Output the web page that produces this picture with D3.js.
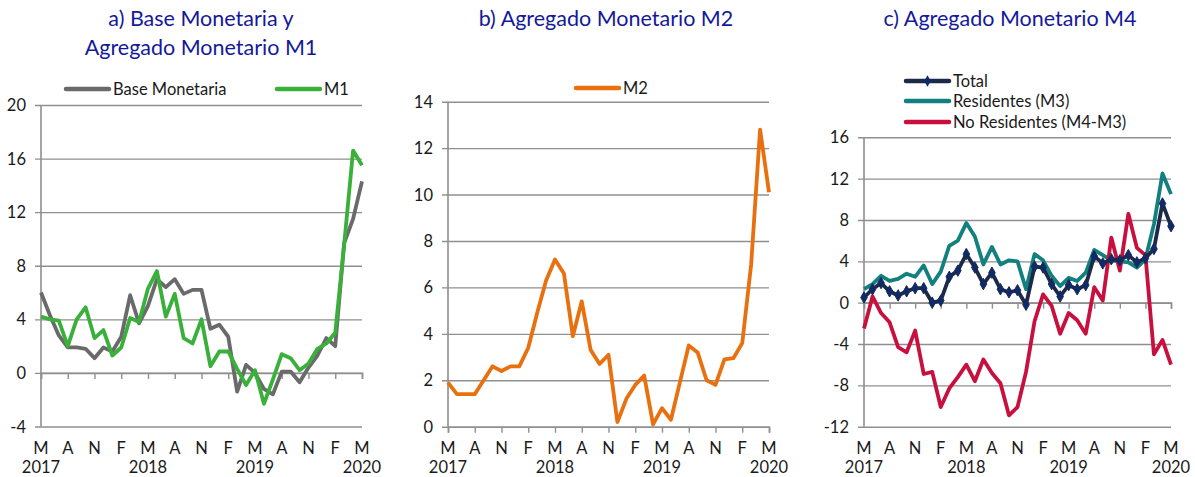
<!DOCTYPE html>
<html>
<head>
<meta charset="utf-8">
<script src="https://cdn.jsdelivr.net/npm/d3@7"></script>
<style>
  body { margin: 0; background: #fff; }
  svg { display: block; font-family: Lato, 'Open Sans', sans-serif; }
</style>
</head>
<body>
<svg id="chart" width="1195" height="477"></svg>
<script>
// month labels every 3 months, years under every 4th label
const MONTH_TICKS = ['M','A','N','F','M','A','N','F','M','A','N','F','M'];
const YEAR_TICKS = ['2017','2018','2019','2020'];

// a) annual growth, %
const baseMonetaria = [6.0,4.3,2.8,1.9,1.9,1.8,1.1,1.9,1.6,2.7,5.8,3.7,5.0,7.0,6.4,7.0,5.9,6.2,6.2,3.3,3.6,2.7,-1.4,0.6,0.0,-1.2,-1.6,0.1,0.1,-0.7,0.4,1.3,2.6,2.0,9.7,11.5,14.3];
const m1 = [4.2,4.0,3.9,2.0,4.0,4.9,2.6,3.2,1.3,1.9,4.1,3.8,6.3,7.6,4.2,5.9,2.6,2.2,4.0,0.5,1.6,1.6,0.3,-0.9,0.2,-2.3,-0.5,1.4,1.1,0.2,0.7,1.8,2.2,3.0,9.6,16.6,15.5];

// b)
const m2 = [1.9,1.4,1.4,1.4,2.0,2.6,2.4,2.6,2.6,3.4,4.9,6.3,7.2,6.6,3.9,5.4,3.3,2.7,3.1,0.2,1.2,1.8,2.2,0.1,0.8,0.3,1.9,3.5,3.2,2.0,1.8,2.9,2.95,3.6,7.0,12.8,10.1];

// c)
const total = [0.5,1.3,1.9,1.1,0.7,1.1,1.4,1.4,0.0,0.2,2.5,3.1,4.7,3.4,1.8,2.9,1.3,1.0,1.2,-0.2,3.5,3.4,1.8,0.6,1.7,1.3,1.7,4.5,3.8,4.2,4.1,4.6,3.9,4.3,5.2,9.6,7.4];
const residentes = [1.3,1.8,2.6,2.1,2.3,2.8,2.5,3.6,1.8,3.0,5.5,6.0,7.7,6.4,3.7,5.4,3.7,4.1,4.0,1.3,4.7,4.1,2.6,1.6,2.4,2.1,2.9,5.1,4.6,4.1,4.0,3.9,3.4,4.2,7.6,12.5,10.5];
const noResidentes = [-2.5,0.6,-1.0,-1.9,-4.3,-4.8,-2.7,-6.9,-6.7,-10.1,-8.3,-7.2,-6.0,-7.6,-5.5,-6.8,-7.8,-10.9,-10.1,-6.7,-1.8,0.8,-0.3,-3.0,-1.0,-1.7,-3.0,1.5,0.2,6.3,3.1,8.6,5.3,4.6,-5.0,-3.6,-6.0];

const svg = d3.select('#chart');
const GRID = '#8f8f8f', INK = '#1a1a1a', TITLE = '#14199a';
const FS = 16.5;

function panel(o) {
  const x = d3.scaleLinear().domain([0, m1.length - 1]).range([o.x0, o.x1]);
  const y = d3.scaleLinear().domain(o.domain).range([o.yBot, o.yTop]);
  const g = svg.append('g');
  const ticks = d3.range(o.domain[0], o.domain[1] + 0.001, o.step);

  // gridlines + left ticks
  g.append('g').attr('transform', `translate(${o.x0},0)`)
    .call(d3.axisLeft(y).tickValues(ticks).tickSize(0).tickFormat(''))
    .call(a => a.select('.domain').remove())
    .call(a => a.selectAll('.tick').append('line')
      .attr('x1', -6).attr('x2', o.x1 - o.x0).attr('stroke', GRID).attr('stroke-width', 1.4));
  g.selectAll('text.yl').data(ticks).join('text')
    .attr('x', o.x0 - 15).attr('y', d => y(d) + 6).attr('text-anchor', 'end')
    .attr('font-size', FS).attr('fill', INK).text(d => d);
  g.append('line').attr('x1', o.x0).attr('x2', o.x0).attr('y1', o.yTop).attr('y2', o.yBot)
    .attr('stroke', GRID).attr('stroke-width', 1.6);

  // x axis at zero
  const xi = d3.range(0, m1.length, 3);
  const y0 = y(0);
  g.append('g').attr('transform', `translate(0,${y0})`)
    .call(d3.axisBottom(x).tickValues(xi).tickSize(6).tickFormat(''))
    .call(a => a.select('.domain').attr('stroke', GRID).attr('stroke-width', 1.6))
    .call(a => a.selectAll('.tick line').attr('stroke', GRID).attr('stroke-width', 1.4));
  g.selectAll('text.xm').data(xi).join('text')
    .attr('x', d => x(d)).attr('y', 454).attr('text-anchor', 'middle')
    .attr('font-size', FS).attr('fill', INK).text((d, i) => MONTH_TICKS[i]);
  g.selectAll('text.xy').data(YEAR_TICKS).join('text')
    .attr('x', (d, i) => x(i * 12)).attr('y', 473).attr('text-anchor', 'middle')
    .attr('font-size', FS).attr('fill', INK).text(d => d);

  // series
  const line = d3.line().x((d, i) => x(i)).y(d => y(d));
  o.series.forEach(s => {
    g.append('path').datum(s.data).attr('d', line).attr('fill', 'none')
      .attr('stroke', s.color).attr('stroke-width', 3.8).attr('stroke-linejoin', 'round');
    if (s.marker) {
      g.selectAll(null).data(s.data).join('path')
        .attr('transform', (d, i) => `translate(${x(i)},${y(d)})`)
        .attr('d', d3.symbol(d3.symbolDiamond, 38))
        .attr('fill', '#0c2a6e').attr('stroke', '#1b2a4e').attr('stroke-width', 1);
    }
  });

  // title
  o.title.forEach((t, i) => svg.append('text').attr('x', o.tx).attr('y', 26 + i * 29)
    .attr('text-anchor', 'middle').attr('font-size', 21.5).attr('fill', TITLE).text(t));

  // legend
  o.legend.forEach(l => {
    svg.append('line').attr('x1', l.x).attr('x2', l.x + 43).attr('y1', l.y).attr('y2', l.y)
      .attr('stroke', l.color).attr('stroke-width', 4.5).attr('stroke-linecap', 'round');
    if (l.marker) svg.append('path').attr('transform', `translate(${l.x + 21.5},${l.y})`)
      .attr('d', d3.symbol(d3.symbolDiamond, 38)).attr('fill', '#0c2a6e');
    svg.append('text').attr('x', l.x + 47).attr('y', l.y + 6).attr('font-size', FS)
      .attr('fill', INK).text(l.label);
  });
}

const GRAY = '#6a6a6a', GREEN = '#39b03a', ORANGE = '#e8700f', NAVY = '#1c2a4a', TEAL = '#11807f', RED = '#c8103e';

panel({
  x0: 41, x1: 362, yTop: 105, yBot: 426.5, domain: [-4, 20], step: 4, tx: 201,
  title: ['a) Base Monetaria y', 'Agregado Monetario M1'],
  series: [{ data: baseMonetaria, color: GRAY }, { data: m1, color: GREEN }],
  legend: [{ x: 66, y: 89, color: GRAY, label: 'Base Monetaria' }, { x: 277, y: 89, color: GREEN, label: 'M1' }]
});
panel({
  x0: 448, x1: 769, yTop: 101.7, yBot: 426.7, domain: [0, 14], step: 2, tx: 606,
  title: ['b) Agregado Monetario M2'],
  series: [{ data: m2, color: ORANGE }],
  legend: [{ x: 576, y: 88, color: ORANGE, label: 'M2' }]
});
panel({
  x0: 864, x1: 1171, yTop: 137.3, yBot: 426.7, domain: [-12, 16], step: 4, tx: 1010,
  title: ['c) Agregado Monetario M4'],
  series: [{ data: residentes, color: TEAL }, { data: noResidentes, color: RED }, { data: total, color: NAVY, marker: true }],
  legend: [{ x: 906, y: 81, color: NAVY, label: 'Total', marker: true },
           { x: 906, y: 101, color: TEAL, label: 'Residentes (M3)' },
           { x: 906, y: 122, color: RED, label: 'No Residentes (M4-M3)' }]
});
</script>
</body>
</html>
